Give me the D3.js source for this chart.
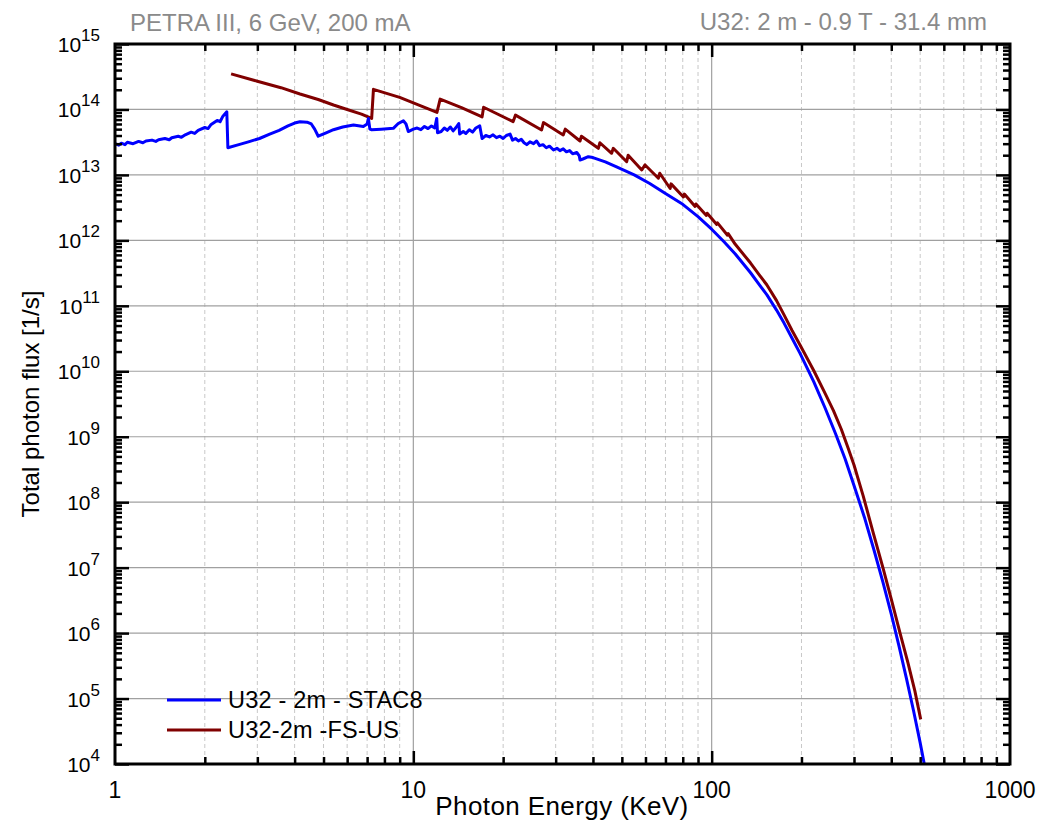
<!DOCTYPE html>
<html><head><meta charset="utf-8">
<script src="https://cdn.jsdelivr.net/npm/d3@7"></script>
<style>
html,body{margin:0;padding:0;background:#fff;}
svg{display:block;font-family:"Liberation Sans",Arial,sans-serif;}
</style></head>
<body><svg id="chart" width="1038" height="823"></svg>
<script>
// ---- data ----
const titleLeft = "PETRA III, 6 GeV, 200 mA";
const titleRight = "U32: 2 m - 0.9 T - 31.4 mm";
const xLabel = "Photon Energy (KeV)";
const yLabel = "Total photon flux [1/s]";
const seriesNames = ["U32 - 2m - STAC8", "U32-2m -FS-US"];
const seriesColors = ["#0000ff", "#800000"];
const xTickValues = [1, 10, 100, 1000];
const yTickExponents = [4,5,6,7,8,9,10,11,12,13,14,15];

// U32 - 2m - STAC8 : [energy keV, flux 1/s]
const stac8 = [
 [1.0,3.0e13],[1.03,2.85e13],[1.05,3.05e13],[1.08,2.9e13],[1.1,3.15e13],[1.15,3.0e13],[1.2,3.25e13],[1.24,3.1e13],[1.27,3.3e13],[1.33,3.4e13],[1.37,3.25e13],[1.4,3.45e13],
 [1.47,3.6e13],[1.52,3.45e13],[1.55,3.7e13],[1.63,3.9e13],[1.67,3.75e13],[1.72,4.1e13],[1.8,4.5e13],[1.85,4.3e13],[1.9,4.8e13],[2.0,5.3e13],[2.05,5.1e13],[2.1,5.9e13],
 [2.2,6.8e13],[2.25,6.5e13],[2.3,7.9e13],[2.37,9.2e13],[2.39,2.6e13],[2.6,2.9e13],[2.8,3.2e13],[3.05,3.6e13],[3.3,4.2e13],
 [3.55,4.8e13],[3.8,5.6e13],[4.0,6.2e13],[4.17,6.5e13],[4.4,6.4e13],[4.55,6.0e13],[4.67,5.0e13],[4.8,3.9e13],
 [5.1,4.4e13],[5.4,4.9e13],[5.8,5.4e13],[6.3,5.8e13],[6.8,5.5e13],[7.0,6.0e13],[7.07,7.3e13],[7.15,5.0e13],
 [7.25,4.9e13],[7.8,5.0e13],[8.57,5.15e13],[8.9,6.1e13],[9.26,6.7e13],[9.45,6.0e13],[9.62,4.6e13],[10.0,5.0e13],
 [10.3,5.2e13],[10.6,4.9e13],[10.9,5.5e13],[11.2,5.1e13],[11.5,5.6e13],[11.8,5.2e13],[11.98,7.3e13],[12.05,4.4e13],
 [12.4,4.6e13],[12.7,5.2e13],[13.0,4.8e13],[13.3,5.4e13],[13.6,4.7e13],[13.9,5.3e13],[14.2,6.1e13],[14.3,4.2e13],
 [14.7,4.6e13],[15.0,4.3e13],[15.4,4.9e13],[15.8,4.5e13],[16.2,5.2e13],[16.7,5.6e13],[17.0,3.6e13],[17.5,4.0e13],
 [18.0,3.8e13],[18.5,4.1e13],[19.0,3.7e13],[19.5,3.9e13],[20.0,3.6e13],[20.5,4.0e13],[21.1,4.2e13],[21.5,3.4e13],
 [22.0,3.6e13],[22.5,3.3e13],[23.0,3.5e13],[23.5,3.1e13],[24.0,2.9e13],[24.6,3.2e13],[25.3,3.0e13],[25.9,3.3e13],
 [26.5,2.8e13],[27.2,2.9e13],[27.9,2.6e13],[28.6,2.75e13],[29.5,2.4e13],[30.3,2.55e13],[31.0,2.35e13],[31.8,2.5e13],
 [32.6,2.25e13],[33.4,2.35e13],[34.2,2.1e13],[35.3,2.2e13],[36.0,1.95e13],[36.2,1.69e13],[37.0,1.75e13],[38.6,1.9e13],
 [40,1.84e13],[44,1.58e13],[48,1.33e13],[55,1.0e13],[62,7.4e12],[70,5.2e12],[80,3.55e12],[90,2.3e12],[100,1.48e12],
 [110,9.5e11],[120,6.2e11],[135,3.2e11],[145,2.05e11],[153,1.48e11],[165,8.6e10],[175,5.4e10],[186,3.2e10],[198,1.86e10],
 [220,6.9e9],[240,2.75e9],[260,1.12e9],[280,4.6e8],[300,1.8e8],[325,5.9e7],[350,1.86e7],[375,6.0e6],[400,1.95e6],
 [425,6.2e5],[450,2.0e5],[475,6.5e4],[500,2.1e4],[516,1.0e4]
];

// U32-2m -FS-US : [energy keV, flux 1/s]
const fsus = [
 [2.45,3.5e14],[3.0,2.7e14],[3.6,2.15e14],[4.17,1.72e14],[4.8,1.42e14],[5.4,1.17e14],[6.0,1.0e14],[6.7,8.5e13],
 [7.25,7.3e13],[7.35,2.03e14],[9.0,1.53e14],[12.0,9.0e13],[12.3,1.44e14],[14.5,1.07e14],[17.0,7.7e13],[17.2,1.08e14],
 [21.6,6.5e13],[22.0,8.2e13],[26.9,4.85e13],[27.3,6.3e13],[31.8,4.07e13],[32.3,5.0e13],[36.2,3.3e13],[36.6,3.9e13],
 [41.7,2.55e13],[42.2,3.1e13],[46.2,2.14e13],[46.8,2.55e13],[51.9,1.59e13],[52.5,2.0e13],[58.3,1.19e13],[59.8,1.42e13],
 [66.3,8.9e12],[67.0,1.06e13],[72.6,6.2e12],[73.1,7.3e12],[80.4,4.6e12],[81.0,5.1e12],[88.0,3.3e12],[88.6,3.6e12],
 [96.0,2.4e12],[96.6,2.6e12],[104,1.75e12],[104.6,1.85e12],[113,1.2e12],[113.6,1.27e12],[120,8.7e11],[135,4.5e11],
 [145,2.9e11],[153,2.1e11],[165,1.2e11],[175,7.2e10],[186,4.2e10],[198,2.5e10],[220,1.02e10],[240,4.6e9],[256,2.5e9],
 [272,1.3e9],[287,6.6e8],[300,3.7e8],[322,1.25e8],[348,3.4e7],[375,1.0e7],[400,3.3e6],[428,1.0e6],[455,3.5e5],
 [480,1.3e5],[502,4.8e4]
];

// ---- layout ----
const svg = d3.select("#chart");
const L = 115, R = 1010, T = 44, B = 764;
const x = d3.scaleLog().domain([1, 1000]).range([L, R]);
const y = d3.scaleLog().domain([1e4, 1e15]).range([B, T]);

const xMinor = [];
[1,10,100].forEach(d => { for (let k = 2; k <= 9; k++) xMinor.push(d * k); });
const yMinor = [];
for (let e = 4; e < 15; e++) for (let k = 2; k <= 9; k++) yMinor.push(k * Math.pow(10, e));

const grid = svg.append("g");
grid.selectAll(".xminor").data(xMinor).enter().append("line")
  .attr("x1", d => x(d)).attr("x2", d => x(d)).attr("y1", T).attr("y2", B)
  .attr("stroke", "#c8c8c8").attr("stroke-width", 1).attr("stroke-dasharray", "4,3");
grid.selectAll(".xmajor").data([10, 100]).enter().append("line")
  .attr("x1", d => x(d)).attr("x2", d => x(d)).attr("y1", T).attr("y2", B)
  .attr("stroke", "#a0a0a0").attr("stroke-width", 1.2);
grid.selectAll(".ymajor").data(yTickExponents.slice(1, -1)).enter().append("line")
  .attr("x1", L).attr("x2", R).attr("y1", d => y(Math.pow(10, d))).attr("y2", d => y(Math.pow(10, d)))
  .attr("stroke", "#a0a0a0").attr("stroke-width", 1.2);

svg.append("clipPath").attr("id", "clip").append("rect")
  .attr("x", L).attr("y", T).attr("width", R - L).attr("height", B - T);

const line = d3.line().x(d => x(d[0])).y(d => y(d[1]));
const plot = svg.append("g").attr("clip-path", "url(#clip)");
plot.append("path").datum(fsus).attr("d", line).attr("fill", "none")
  .attr("stroke", seriesColors[1]).attr("stroke-width", 3).attr("stroke-linejoin", "round");
plot.append("path").datum(stac8).attr("d", line).attr("fill", "none")
  .attr("stroke", seriesColors[0]).attr("stroke-width", 3).attr("stroke-linejoin", "round");

function tickAxis(axisFn, scale, vals, size, transform) {
  const g = svg.append("g").attr("transform", transform)
    .call(axisFn(scale).tickValues(vals).tickSize(size).tickFormat(""));
  g.select(".domain").remove();
  g.selectAll(".tick line").attr("stroke", "#000").attr("stroke-width", 2.5);
  return g;
}
const xMaj = [10, 100];
tickAxis(d3.axisTop, x, xMaj, 13, `translate(0,${B})`);
tickAxis(d3.axisTop, x, xMinor, 7, `translate(0,${B})`);
tickAxis(d3.axisBottom, x, xMaj, 13, `translate(0,${T})`);
tickAxis(d3.axisBottom, x, xMinor, 7, `translate(0,${T})`);
const yMajVals = yTickExponents.map(e => Math.pow(10, e));
tickAxis(d3.axisRight, y, yMajVals, 14, `translate(${L},0)`);
tickAxis(d3.axisRight, y, yMinor, 7, `translate(${L},0)`);
tickAxis(d3.axisLeft, y, yMajVals, 14, `translate(${R},0)`);
tickAxis(d3.axisLeft, y, yMinor, 7, `translate(${R},0)`);

svg.append("rect").attr("x", L).attr("y", T).attr("width", R - L).attr("height", B - T)
  .attr("fill", "none").attr("stroke", "#000").attr("stroke-width", 3);

// x tick labels
svg.selectAll(".xlab").data(xTickValues).enter().append("text")
  .attr("x", d => x(d)).attr("y", 798).attr("text-anchor", "middle")
  .attr("font-size", 23).attr("fill", "#000").text(d => d);

// y tick labels 10^n
yTickExponents.forEach(e => {
  const yy = y(Math.pow(10, e));
  const t = svg.append("text").attr("x", 100).attr("y", yy + 8).attr("text-anchor", "end")
    .attr("font-size", 21).attr("fill", "#000");
  t.append("tspan").text("10");
  t.append("tspan").attr("font-size", 17).attr("dy", -11).text(e);
});

// axis titles
svg.append("text").attr("x", 562).attr("y", 815).attr("text-anchor", "middle")
  .attr("font-size", 26).attr("letter-spacing", 0.4).attr("fill", "#000").text(xLabel);
svg.append("text").attr("transform", "translate(39,404) rotate(-90)").attr("text-anchor", "middle")
  .attr("font-size", 24).attr("fill", "#000").text(yLabel);

// top titles
svg.append("text").attr("x", 130).attr("y", 31).attr("font-size", 24).attr("fill", "#8a8a8a").text(titleLeft);
svg.append("text").attr("x", 987).attr("y", 30).attr("text-anchor", "end").attr("font-size", 24).attr("fill", "#8a8a8a").text(titleRight);

// legend
const legY = [700, 730];
seriesNames.forEach((n, i) => {
  svg.append("line").attr("x1", 167).attr("x2", 221).attr("y1", legY[i]).attr("y2", legY[i])
    .attr("stroke", seriesColors[i]).attr("stroke-width", 3);
  svg.append("text").attr("x", 228).attr("y", legY[i] + 8).attr("font-size", 23.5)
    .attr("letter-spacing", 0.2).attr("fill", "#000").text(n);
});
</script></body></html>
